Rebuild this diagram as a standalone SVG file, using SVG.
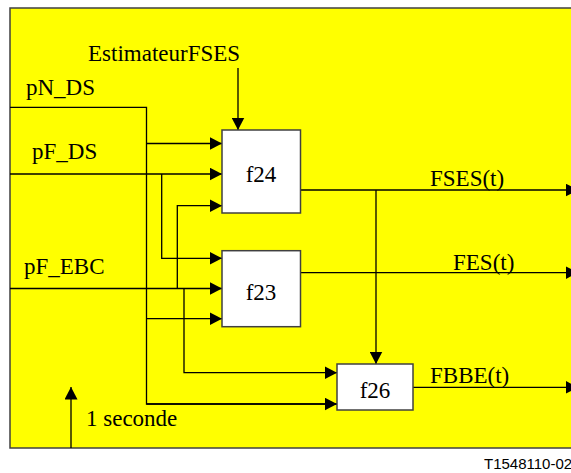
<svg xmlns="http://www.w3.org/2000/svg" width="571" height="473" viewBox="0 0 571 473">
<defs>
<marker id="ah" markerUnits="userSpaceOnUse" markerWidth="13" markerHeight="13" refX="12.5" refY="6.5" orient="auto">
<path d="M0,0 L12.5,6.5 L0,13 z" fill="#000"/>
</marker>
</defs>
<style>
.t{font-family:"Liberation Serif","Times New Roman",serif;font-size:23px;fill:#000}
.box{fill:#fff;stroke:#404040;stroke-width:1.5}
.c{fill:none;stroke:#000;stroke-width:1.3}
.a{marker-end:url(#ah)}
</style>
<rect x="0" y="0" width="571" height="473" fill="#fff"/>
<rect id="frame" x="10" y="8" width="580" height="440" fill="#ffff00" stroke="#404040" stroke-width="1.5"/>
<g id="connectors">
<path class="c" d="M10,107.3 H146.5 V404 H337"/>
<path class="c a" d="M146.5,143.5 H222"/>
<path class="c a" d="M146.5,318.7 H222"/>
<path class="c a" d="M146.5,404 H337"/>
<path class="c a" d="M10,174 H222"/>
<path class="c a" d="M161.7,174 V258.3 H222"/>
<path class="c a" d="M10,288.5 H222"/>
<path class="c a" d="M177.3,288.5 V205.7 H222"/>
<path class="c a" d="M184,288.5 V372.7 H337"/>
<path class="c a" d="M238,68 V130"/>
<path class="c a" d="M301,190 H578"/>
<path class="c a" d="M376,190 V364"/>
<path class="c a" d="M301,272.7 H578"/>
<path class="c a" d="M413,387.3 H578"/>
<path class="c a" d="M71,448 V387"/>
</g>
<g id="f24">
<rect class="box" x="222" y="130" width="78.5" height="83"/>
<text class="t" x="261" y="181.7" text-anchor="middle">f24</text>
</g>
<g id="f23">
<rect class="box" x="222" y="250.7" width="78.5" height="76"/>
<text class="t" x="261" y="300" text-anchor="middle">f23</text>
</g>
<g id="f26">
<rect class="box" x="337" y="364" width="76" height="46"/>
<text class="t" x="375" y="397.7" text-anchor="middle">f26</text>
</g>
<g id="labels">
<text class="t" x="88" y="61">EstimateurFSES</text>
<text class="t" x="26" y="95">pN_DS</text>
<text class="t" x="32" y="159.3">pF_DS</text>
<text class="t" x="24" y="274.3">pF_EBC</text>
<text class="t" x="430" y="185.7">FSES(t)</text>
<text class="t" x="453" y="270">FES(t)</text>
<text class="t" x="430" y="383.3">FBBE(t)</text>
<text class="t" x="86" y="425.7">1 seconde</text>
<text x="484" y="469" font-family="Liberation Sans, Arial, sans-serif" font-size="15" fill="#000">T1548110-02</text>
</g>
</svg>
